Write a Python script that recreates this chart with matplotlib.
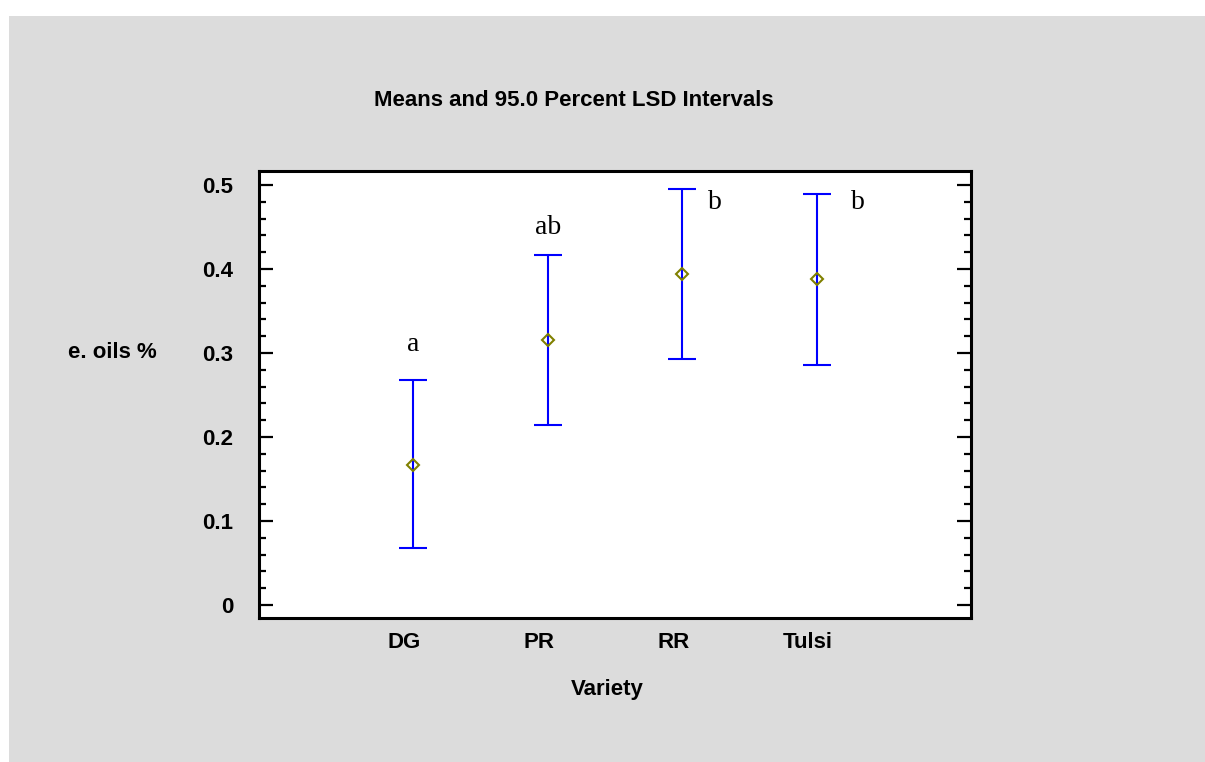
import matplotlib
matplotlib.use("Agg")
import matplotlib.pyplot as plt
from matplotlib.patches import Rectangle
from matplotlib.transforms import ScaledTranslation
from matplotlib.ticker import MultipleLocator
import numpy as np

# data
varieties = ["DG", "PR", "RR", "Tulsi"]
means = [0.167, 0.3155, 0.394, 0.3877]
lower = [0.0675, 0.214, 0.293, 0.286]
upper = [0.268, 0.4167, 0.495, 0.489]
letters = ["a", "ab", "b", "b"]
letter_dx = [0.0, 0.0, 0.245, 0.30]
letter_y = [0.31, 0.449, 0.479, 0.479]

plt.rcParams['font.family'] = ['Liberation Sans', 'DejaVu Sans']

fig = plt.figure(figsize=(12.05, 7.62), dpi=100)
fig.patch.set_facecolor("white")
fig.patches.append(Rectangle((9 / 1205, 0), 1 - 9 / 1205, 1 - 16 / 762,
                             transform=fig.transFigure, facecolor="#dcdcdc",
                             edgecolor="none", zorder=-10))

ax = fig.add_axes([259 / 1205, 1 - 618 / 762, 712 / 1205, 447 / 762])
ax.set_facecolor("white")

x = np.arange(1, len(varieties) + 1)
m = np.array(means)
yerr = [m - np.array(lower), np.array(upper) - m]
ax.errorbar(x, m, yerr=yerr, fmt="none", ecolor="#0000ff", elinewidth=1.5,
            capsize=10, capthick=1.5, zorder=2)
ax.plot(x, m, linestyle="none", marker="D", markersize=6.5,
        markerfacecolor="none", markeredgecolor="#808000", markeredgewidth=1.5,
        zorder=3)

for xi, lt, dx, ly in zip(x, letters, letter_dx, letter_y):
    ax.text(xi + dx, ly, lt, ha="center", va="center", fontsize=20,
            family="Liberation Serif")

ax.set_xlim(-0.143, 5.143)
ax.set_ylim(-0.0155, 0.5167)

ax.set_xticks(x)
ax.set_xticklabels(varieties, fontsize=16, fontweight="bold")
ax.tick_params(axis="x", length=0, pad=10)
for lab in ax.get_xticklabels():
    lab.set_transform(lab.get_transform() + ScaledTranslation(-0.09, 0, fig.dpi_scale_trans))

ax.yaxis.set_major_locator(MultipleLocator(0.1))
ax.yaxis.set_minor_locator(MultipleLocator(0.02))
ax.set_yticks([0, 0.1, 0.2, 0.3, 0.4, 0.5])
ax.set_yticklabels(["0", "0.1", "0.2", "0.3", "0.4", "0.5"], fontsize=16, fontweight="bold")
ax.tick_params(axis="y", which="major", direction="in", length=10, width=1.6,
               left=True, right=True, pad=18.5)
ax.tick_params(axis="y", which="minor", direction="in", length=5, width=1.6,
               left=True, right=True)

for sp in ax.spines.values():
    sp.set_linewidth(2.2)
    sp.set_color("black")

fig.text(574 / 1205, 1 - 100 / 762, "Means and 95.0 Percent LSD Intervals",
         ha="center", va="center", fontsize=16, fontweight="bold")
fig.text(607 / 1205, 1 - 690 / 762, "Variety", ha="center", va="center",
         fontsize=16, fontweight="bold")
fig.text(112 / 1205, 1 - 353 / 762, "e. oils %", ha="center", va="center",
         fontsize=16, fontweight="bold")

fig.savefig("out.png", dpi=100)
